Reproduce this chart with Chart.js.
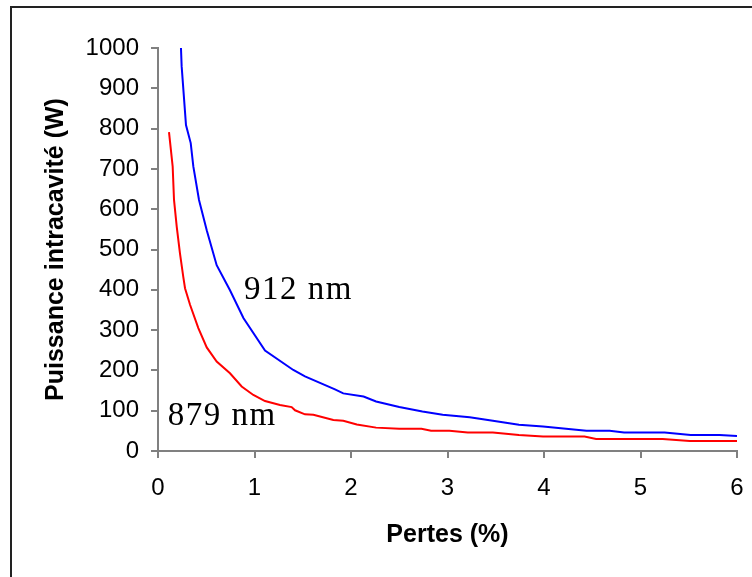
<!DOCTYPE html>
<html>
<head>
<meta charset="utf-8">
<script src="https://cdn.jsdelivr.net/npm/chart.js@4"></script>
<style>
  html, body { margin: 0; padding: 0; background: #fff; overflow: hidden; }
  #wrap { position: relative; width: 752px; height: 577px; }
  #frame {
    position: absolute; left: 10px; top: 6px; width: 800px; height: 600px;
    border-top: 2px solid #222; border-left: 2px solid #222;
  }
  canvas { position: absolute; left: 0; top: 0; }
</style>
</head>
<body>
<div id="wrap">
  <div id="frame"></div>
  <canvas id="myChart" width="752" height="577"></canvas>
</div>
<script>
// pertes (%) and intracavity power (W)
const lossBlue = [0.238, 0.245, 0.29, 0.339, 0.366, 0.425, 0.505, 0.608, 0.746, 0.885, 1.109, 1.402, 1.523, 1.834, 1.92, 2.13, 2.26, 2.5, 2.74, 2.95, 3.23, 3.47, 3.74, 3.99, 4.44, 4.68, 4.83, 5.25, 5.52, 5.82, 6.0];
const power912 = [1000, 955, 809, 764, 706, 623, 548, 461, 399, 330, 249, 201, 185, 153, 143, 135, 123, 109, 98, 90, 84, 75, 65, 61, 50, 50, 46, 46, 40, 40, 37];

const lossRed = [0.114, 0.152, 0.166, 0.194, 0.228, 0.262, 0.28, 0.332, 0.418, 0.505, 0.608, 0.746, 0.867, 0.988, 1.109, 1.264, 1.385, 1.42, 1.523, 1.61, 1.817, 1.92, 2.06, 2.26, 2.5, 2.73, 2.83, 3.02, 3.21, 3.47, 3.74, 3.99, 4.42, 4.54, 5.23, 5.51, 6.0];
const power879 = [791, 706, 623, 557, 490, 432, 404, 363, 305, 257, 222, 193, 160, 139, 124, 114, 109, 101, 91, 90, 77, 75, 66, 58, 55, 55, 50, 50, 46, 46, 40, 36, 36, 30, 30, 25, 25];

const labels = [
  { text: "912 nm", x: 0.89, y: 399 },
  { text: "879 nm", x: 0.10, y: 86 },
];

function toPoints(xs, ys) {
  return xs.map((x, i) => ({ x: x, y: ys[i] }));
}

const curveLabels = {
  id: "curveLabels",
  afterDatasetsDraw(chart) {
    const ctx = chart.ctx;
    const xs = chart.scales.x;
    const ys = chart.scales.y;
    ctx.save();
    ctx.fillStyle = "#000";
    ctx.font = "33px 'Liberation Serif', serif";
    ctx.letterSpacing = "1.5px";
    ctx.textAlign = "left";
    ctx.textBaseline = "middle";
    labels.forEach((l) => {
      ctx.fillText(l.text, xs.getPixelForValue(l.x), ys.getPixelForValue(l.y));
    });
    ctx.restore();
  },
};

Chart.defaults.font.family = "'Liberation Sans', Arial, sans-serif";
Chart.defaults.color = "#000";

var myChart = document.getElementById("myChart").getContext("2d");

new Chart(myChart, {
  type: "line",
  data: {
    datasets: [
      {
        label: "912 nm",
        data: toPoints(lossBlue, power912),
        borderColor: "#0000ff",
        borderWidth: 2,
        pointRadius: 0,
        tension: 0,
      },
      {
        label: "879 nm",
        data: toPoints(lossRed, power879),
        borderColor: "#ff0000",
        borderWidth: 2,
        pointRadius: 0,
        tension: 0,
      },
    ],
  },
  options: {
    responsive: false,
    animation: false,
    layout: { padding: { top: 48, right: 15, left: 30, bottom: 20 } },
    plugins: { legend: { display: false }, tooltip: { enabled: false } },
    scales: {
      x: {
        type: "linear",
        min: 0,
        max: 6,
        border: { display: true, color: "#808080", width: 2 },
        grid: { drawOnChartArea: false, drawTicks: true, tickLength: 7, color: "#808080", lineWidth: 2 },
        ticks: { stepSize: 1, padding: 16, font: { size: 24 } },
        title: { display: true, text: "Pertes (%)", font: { size: 25, weight: "bold" }, padding: { top: 4, bottom: 7 } },
        afterFit: (s) => {
          s.height = 577 - 451 - 20;
          s.paddingLeft = 0;
          s.paddingRight = 0;
        },
      },
      y: {
        type: "linear",
        min: 0,
        max: 1000,
        border: { display: true, color: "#808080", width: 2 },
        grid: { drawOnChartArea: false, drawTicks: true, tickLength: 7, color: "#808080", lineWidth: 2 },
        ticks: { stepSize: 100, padding: 12, font: { size: 24 }, callback: (v) => String(v) },
        title: { display: true, text: "Puissance intracavité (W)", font: { size: 25, weight: "bold" }, padding: { top: 11, bottom: 0 } },
        afterFit: (s) => {
          s.width = 158 - 30;
          s.paddingTop = 0;
          s.paddingBottom = 0;
        },
      },
    },
  },
  plugins: [curveLabels],
});
</script>
</body>
</html>
